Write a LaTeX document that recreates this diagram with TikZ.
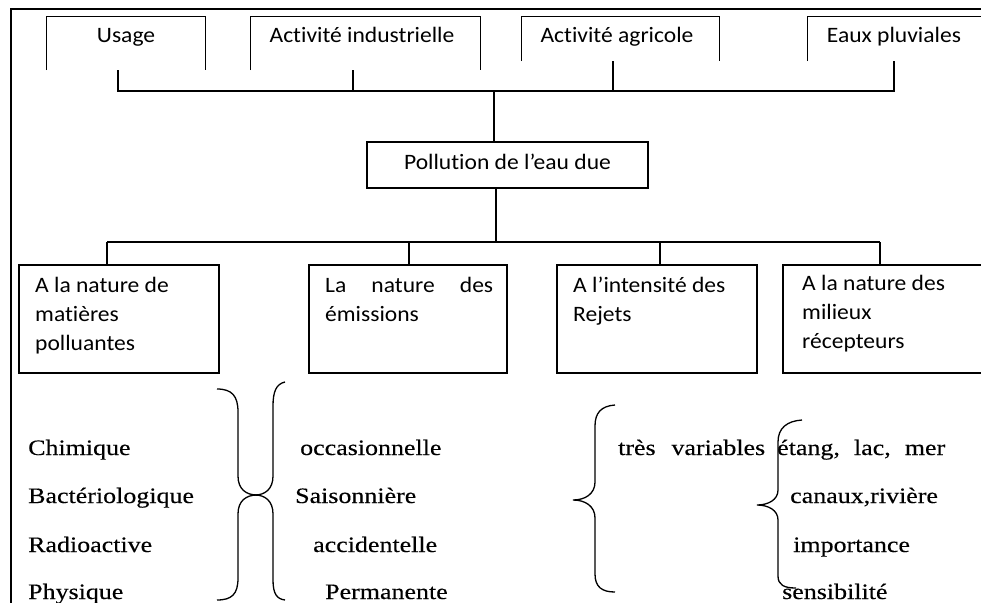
\documentclass[tikz,border=0pt]{standalone}
\usepackage{fontspec}
\setmainfont{Liberation Serif}
\newfontfamily\boxfont[FakeStretch=1.07,Ligatures=NoCommon]{Carlito}
\newfontfamily\serfont[FakeStretch=1.18,FakeBold=0.3]{Liberation Serif}
\begin{document}
\begin{tikzpicture}[x=1pt,y=-1pt,
  ln/.style={line width=1.3pt},
  frameline/.style={line width=2.4pt},
  topbox/.style={inner sep=0pt},
  lowbox/.style={draw, line width=1.3pt, inner sep=0pt, minimum height=108pt},
  cbox/.style={draw, line width=1.3pt, inner sep=0pt, minimum width=281pt, minimum height=46pt},
  sanstxt/.style={font=\boxfont\fontsize{22}{29}\selectfont, inner sep=0pt, anchor=base},
  boxtxt/.style={font=\boxfont\fontsize{22}{29}\selectfont, inner sep=0pt, anchor=base west},
  sertxt/.style={font=\serfont\fontsize{22}{25}\selectfont, inner sep=0pt, anchor=base west},
  bracestyle/.style={line width=1.3pt}]
\useasboundingbox (0,0) rectangle (981,602);
\clip (0,0) rectangle (981,602);

% outer frame
\draw[frameline] (11,615) -- (11,9) -- (995,9);

% top boxes (open at the bottom)
\node[topbox, minimum width=158pt, minimum height=53pt] (usageBox) at (126,43.5) {};
\node[topbox, minimum width=229pt, minimum height=53pt] (induBox) at (365.5,43.5) {};
\node[topbox, minimum width=197pt, minimum height=44pt] (agriBox) at (620.5,39) {};
\node[topbox, minimum width=192pt, minimum height=44pt] (eauxBox) at (904,39) {};
\foreach \b in {usageBox,induBox,agriBox,eauxBox}
  \draw[ln] (\b.south west) |- (\b.north) -| (\b.south east);

\node[sanstxt] (usage) at (126,43) {Usage};
\node[sanstxt] (indu) at (362,43) {Activité industrielle};
\node[sanstxt] (agri) at (617,43) {Activité agricole};
\node[sanstxt] (eaux) at (894,43) {Eaux pluviales};

% central box
\node[cbox] (central) at (507.5,165) {};
\node[sanstxt] (centralTxt) at (507.5,169) {Pollution de l’eau due};

% upper bus
\coordinate (s1) at (118,70);
\coordinate (s2) at (353,70);
\coordinate (s3) at (613,61);
\coordinate (s4) at (894,61);
\coordinate (busTop) at (494,91);
\draw[ln] (s1) |- (s4 |- busTop) -- (s4);
\draw[ln] (s2) -- (s2 |- busTop);
\draw[ln] (s3) -- (s3 |- busTop);
\draw[ln] (busTop) -- (busTop |- central.north);

% lower boxes
\node[lowbox, minimum width=200pt] (b1) at (119,319) {};
\node[lowbox, minimum width=198pt] (b2) at (408,319) {};
\node[lowbox, minimum width=200pt] (b3) at (657,319) {};
\node[lowbox, minimum width=217pt] (b4) at (891.5,319) {};

% lower bus
\coordinate (busB) at (496,242);
\coordinate (t1) at (107,242);
\coordinate (t2) at (409,242);
\coordinate (t3) at (660,242);
\coordinate (t4) at (880,242);
\draw[ln] (busB |- central.south) -- (busB);
\draw[ln] (t1) -- (t4);
\draw[ln] (t1) -- (t1 |- b1.north);
\draw[ln] (t2) -- (t2 |- b2.north);
\draw[ln] (t3) -- (t3 |- b3.north);
\draw[ln] (t4) -- (t4 |- b4.north);

% lower box texts
\node[boxtxt] (b1t) at (35,292) {\vtop{\hbox{A la nature de}\hbox{matières}\hbox{polluantes}}};
\node[boxtxt] (b2t) at (325,292) {\vtop{\hbox to 168pt{La\hfill nature\hfill des}\hbox{émissions}}};
\node[boxtxt] (b3t) at (573,292) {\vtop{\hbox{A l’intensité des}\hbox{Rejets}}};
\node[boxtxt] (b4t) at (802,290) {\vtop{\hbox{A la nature des}\hbox{milieux}\hbox{récepteurs}}};

% serif lists
\node[sertxt] (c1) at (28,455) {Chimique};
\node[sertxt] (c2) at (28,503) {Bactériologique};
\node[sertxt] (c3) at (28,552) {Radioactive};
\node[sertxt] (c4) at (28,599) {Physique};
\node[sertxt] (m1) at (300,455) {occasionnelle};
\node[sertxt] (m2) at (295,503) {Saisonnière};
\node[sertxt] (m3) at (313,552) {accidentelle};
\node[sertxt] (m4) at (325,599) {Permanente};
\node[sertxt] (v1) at (618,455) {\makebox[147pt][s]{très variables}};
\node[sertxt] (r1) at (777,455) {\makebox[168pt][s]{étang, lac, mer}};
\node[sertxt] (r2) at (790,503) {canaux,rivière};
\node[sertxt] (r3) at (793,552) {importance};
\node[sertxt] (r4) at (782,599) {sensibilité};

% braces
\draw[bracestyle] (217,389) .. controls (232,389) and (238,396) .. (238,412)
  -- (238,476) .. controls (238,489) and (246,495) .. (257,495)
  .. controls (246,495) and (238,501) .. (238,514)
  -- (238,578) .. controls (238,594) and (232,600) .. (217,600);
\draw[bracestyle] (285,382) .. controls (276,384) and (273,392) .. (273,406)
  -- (273,476) .. controls (273,489) and (265,495) .. (255,495)
  .. controls (265,495) and (273,501) .. (273,514)
  -- (273,580) .. controls (273,594) and (277,599) .. (285,600);
\draw[bracestyle] (615,405) .. controls (601,406) and (595,413) .. (595,426)
  -- (595,482) .. controls (595,494) and (585,500) .. (573,500)
  .. controls (585,500) and (595,506) .. (595,518)
  -- (595,574) .. controls (595,587) and (602,592) .. (615,592);
\draw[bracestyle] (802,420) .. controls (787,421) and (778,428) .. (778,442)
  -- (778,490) .. controls (778,500) and (768,505) .. (757,505)
  .. controls (768,505) and (778,510) .. (778,520)
  -- (778,576) .. controls (778,585) and (784,588) .. (796,588);
\end{tikzpicture}
\end{document}
